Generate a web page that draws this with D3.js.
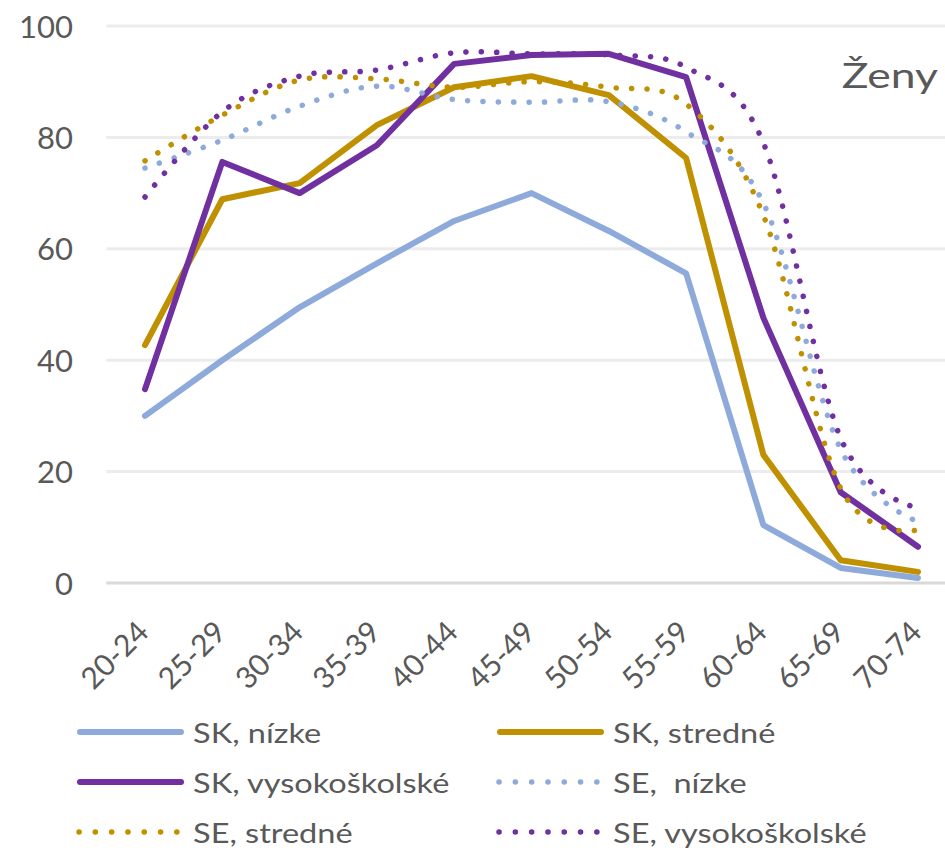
<!DOCTYPE html>
<html>
<head>
<meta charset="utf-8">
<script src="https://cdn.jsdelivr.net/npm/d3@7"></script>
<style>
    body { margin: 0; background: #ffffff; }
    svg text { font-family: Lato, "Open Sans", sans-serif; fill: #595959; }
    .grid line { stroke: #ececec; stroke-width: 3; }
    .baseline { stroke: #d9d9d9; stroke-width: 3; }
    .series { fill: none; stroke-linejoin: round; stroke-linecap: round; }
</style>
</head>
<body>
<div id="chart"></div>
<script>
    // age groups and shares (%)
    let ages = ["20-24", "25-29", "30-34", "35-39", "40-44", "45-49", "50-54", "55-59", "60-64", "65-69", "70-74"];
    let yTicks = [0, 20, 40, 60, 80, 100];

    let skNizke    = [30, 40, 49.5, 57.4, 65, 70, 63.2, 55.6, 10.4, 2.7, 0.9];
    let skStredne  = [42.7, 68.9, 71.8, 82.2, 89, 91, 87.6, 76.3, 23, 4.1, 2];
    let skVysoko   = [34.8, 75.6, 70, 78.6, 93.2, 94.8, 95, 90.8, 47.6, 16.3, 6.5];
    let seNizke    = [74.5, 79.5, 85.6, 89.2, 86.8, 86.3, 86.4, 81, 68.2, 24, 11];
    let seStredne  = [75.8, 84, 90.3, 90.5, 89, 90, 89, 86, 66, 17, 9.5];
    let seVysoko   = [69.3, 84.6, 91, 92.1, 95.2, 95, 94.8, 92.6, 79, 26, 13.5];

    let seriesNames = ["SK, nízke", "SK, stredné", "SK, vysokoškolské", "SE,  nízke", "SE, stredné", "SE, vysokoškolské"];
    let seriesValues = [skNizke, skStredne, skVysoko, seNizke, seStredne, seVysoko];
    let seriesColors = ["#8eaadb", "#bf9000", "#7030a0", "#8eaadb", "#bf9000", "#7030a0"];
    let seriesDotted = [false, false, false, true, true, true];

    let W = 945, H = 848;

    let x = d3.scalePoint().domain(ages).range([145, 918]);
    let y = d3.scaleLinear().domain([0, 100]).range([583, 26]);
    let step = x.step();

    let svg = d3.select("#chart").append("svg")
        .attr("width", W)
        .attr("height", H);

    svg.append("rect").attr("width", W).attr("height", H).attr("fill", "#fff");

    // gridlines
    svg.append("g")
        .attr("class", "grid")
        .selectAll("line")
        .data(yTicks.filter(d => d > 0))
        .enter().append("line")
        .attr("x1", x(ages[0]) - step / 2)
        .attr("x2", x(ages[ages.length - 1]) + step / 2)
        .attr("y1", d => y(d))
        .attr("y2", d => y(d));

    svg.append("line")
        .attr("class", "baseline")
        .attr("x1", x(ages[0]) - step / 2)
        .attr("x2", x(ages[ages.length - 1]) + step / 2)
        .attr("y1", y(0))
        .attr("y2", y(0));

    // y axis labels
    let yAxis = d3.axisLeft(y).tickValues(yTicks).tickSize(0).tickPadding(0);
    let yg = svg.append("g")
        .attr("transform", "translate(73,0)")
        .call(yAxis);
    yg.select(".domain").remove();
    yg.selectAll("text")
        .attr("fill", "#595959")
        .style("font-size", "31px")
        .attr("dy", "0.36em");

    // x axis labels, rotated
    let xAxis = d3.axisBottom(x).tickSize(0).tickPadding(0);
    let xg = svg.append("g")
        .attr("transform", "translate(0,634)")
        .call(xAxis);
    xg.select(".domain").remove();
    xg.selectAll("text")
        .attr("fill", "#595959")
        .style("font-size", "30px")
        .attr("y", 0)
        .attr("dy", 0)
        .attr("transform", "translate(5,0) rotate(-45)")
        .style("text-anchor", "end");

    // lines
    let solidLine = d3.line()
        .x((d, i) => x(ages[i]))
        .y(d => y(d));

    let smoothLine = d3.line()
        .x((d, i) => x(ages[i]))
        .y(d => y(d))
        .curve(d3.curveCatmullRom.alpha(0));

    seriesValues.forEach(function(vals, k) {
        let p = svg.append("path")
            .datum(vals)
            .attr("class", "series")
            .attr("stroke", seriesColors[k]);
        if (seriesDotted[k]) {
            p.attr("d", smoothLine)
                .attr("stroke-width", 5.5)
                .attr("stroke-dasharray", "0.1 15.3");
        } else {
            p.attr("d", solidLine)
                .attr("stroke-width", 6);
        }
    });

    // title inside the plot
    svg.append("text")
        .attr("transform", "translate(938,88) scale(1.27,1)")
        .attr("text-anchor", "end")
        .style("font-size", "35px")
        .text("Ženy");

    // legend
    let legendCols = [77, 497];
    let legendRows = [732, 782, 832];
    let legend = svg.append("g").attr("class", "legend");

    seriesNames.forEach(function(name, k) {
        let lx = legendCols[k % 2];
        let ly = legendRows[Math.floor(k / 2)];
        let g = legend.append("g").attr("transform", "translate(" + lx + "," + ly + ")");
        if (seriesDotted[k]) {
            g.append("line")
                .attr("x1", 2).attr("x2", 104).attr("y1", 0).attr("y2", 0)
                .attr("stroke", seriesColors[k])
                .attr("stroke-width", 5.5)
                .attr("stroke-linecap", "round")
                .attr("stroke-dasharray", "0.1 16.2");
        } else {
            g.append("line")
                .attr("x1", 3).attr("x2", 104).attr("y1", 0).attr("y2", 0)
                .attr("stroke", seriesColors[k])
                .attr("stroke-width", 6)
                .attr("stroke-linecap", "round");
        }
        g.append("text")
            .attr("transform", "translate(116,11) scale(1.25,1)")
            .style("font-size", "26px")
            .style("white-space", "pre")
            .text(name);
    });
</script>
</body>
</html>
